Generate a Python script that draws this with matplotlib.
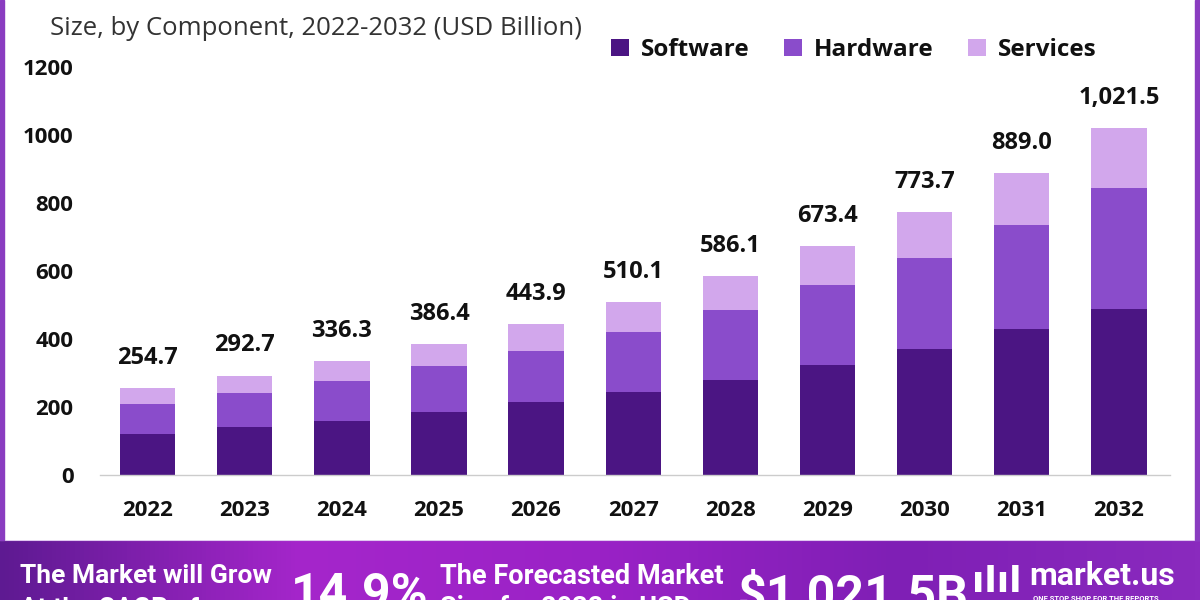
import numpy as np
import matplotlib.pyplot as plt
from matplotlib.colors import LinearSegmentedColormap
from matplotlib.patches import Rectangle

plt.rcParams['font.family'] = ['Open Sans', 'DejaVu Sans']

years = ['2022', '2023', '2024', '2025', '2026', '2027', '2028', '2029', '2030', '2031', '2032']
software = [121, 141, 159, 185, 215, 244, 279, 324, 371, 429, 488]
hardware = [88, 100, 117, 135, 150, 177, 206, 235, 267, 306, 356]
services = [45.7, 51.7, 60.3, 66.4, 78.9, 89.1, 101.1, 114.4, 135.7, 154.0, 177.5]
totals = [254.7, 292.7, 336.3, 386.4, 443.9, 510.1, 586.1, 673.4, 773.7, 889.0, 1021.5]

c_soft = '#4b1583'
c_hard = '#8a4ccb'
c_serv = '#d2a7ec'

fig = plt.figure(figsize=(12, 6), dpi=100)
fig.patch.set_facecolor('white')

ax = fig.add_axes([0.0833, 0.2083, 0.892, 0.68])
x = np.arange(len(years))
w = 0.57
soft = np.array(software)
hard = np.array(hardware)
ax.bar(x, soft, w, color=c_soft, label='Software')
ax.bar(x, hard, w, bottom=soft, color=c_hard, label='Hardware')
ax.bar(x, services, w, bottom=soft + hard, color=c_serv, label='Services')

for xi, t in zip(x, totals):
    ax.annotate(f'{t:,.1f}', (xi, t), xytext=(0, 13), textcoords='offset points',
                ha='center', va='bottom', fontsize=17, fontweight='bold', color='#111111')

ax.set_xlim(-0.49, 10.53)
ax.set_ylim(0, 1200)
ax.set_yticks(range(0, 1201, 200))
ax.set_xticks(x)
ax.set_xticklabels(years)
ax.tick_params(axis='y', length=0, pad=19, labelsize=16)
ax.tick_params(axis='x', length=0, pad=18, labelsize=16)
for lab in ax.get_xticklabels() + ax.get_yticklabels():
    lab.set_fontweight('bold')
    lab.set_color('#111111')
for s in ['top', 'right', 'left']:
    ax.spines[s].set_visible(False)
ax.spines['bottom'].set_color('#cccccc')
ax.spines['bottom'].set_linewidth(1)

fig.text(0.042, 0.953, 'Size, by Component, 2022-2032 (USD Billion)', fontsize=18.5,
         color='#333333', va='center')

leg = ax.legend(loc='upper left', bbox_to_anchor=(0.468, 1.095), ncol=3, frameon=False,
                fontsize=17.5, handlelength=0.75, handleheight=0.75, columnspacing=1.4,
                handletextpad=0.5, borderaxespad=0)
for t in leg.get_texts():
    t.set_fontweight('bold')
    t.set_color('#111111')

# side borders
fig.add_artist(Rectangle((0, 0.1), 0.003, 0.9, transform=fig.transFigure, color='#8a3cc0'))
fig.add_artist(Rectangle((0.996, 0.1), 0.004, 0.9, transform=fig.transFigure, color='#8a3cc0'))

# bottom banner
bax = fig.add_axes([0, 0, 1, 0.1])
cmap = LinearSegmentedColormap.from_list('ban', ['#5e1a92', '#a526cb', '#9a22c6', '#7f1fb5', '#8a2abe'])
grad = np.linspace(0, 1, 256).reshape(1, -1)
bax.imshow(grad, aspect='auto', cmap=cmap, extent=[0, 1, 0, 1])
bax.set_xlim(0, 1)
bax.set_ylim(0, 1)
bax.axis('off')
bax.axhline(1, color='#e0c8f0', lw=1.5)

fig.text(0.017, 0.04, 'The Market will Grow', fontsize=19, fontweight='bold',
         color='white', family='Roboto', va='center')
fig.text(0.017, -0.015, 'At the CAGR of:', fontsize=19, fontweight='bold',
         color='white', family='Roboto', va='center')
fig.text(0.242, 0.008, '14.9%', fontsize=36, fontweight='bold', color='white',
         family='Roboto', va='center')
fig.text(0.367, 0.04, 'The Forecasted Market', fontsize=19.5, fontweight='bold',
         color='white', family='Roboto', va='center')
fig.text(0.367, -0.015, 'Size for 2032 in USD:', fontsize=19.5, fontweight='bold',
         color='white', family='Roboto', va='center')
fig.text(0.615, 0.008, '$1,021.5B', fontsize=36, fontweight='bold', color='white',
         family='Roboto', va='center')
fig.text(0.81, 0.03, 'ılıl', fontsize=26, fontweight='bold', color='white',
         family='DejaVu Sans', va='center')
fig.text(0.858, 0.04, 'market.us', fontsize=23, fontweight='bold', color='white',
         family='Roboto', va='center')
fig.text(0.861, 0.002, 'ONE STOP SHOP FOR THE REPORTS', fontsize=5.5, fontweight='bold',
         color='white', family='Roboto', va='center')

fig.savefig('out.png', dpi=100)
